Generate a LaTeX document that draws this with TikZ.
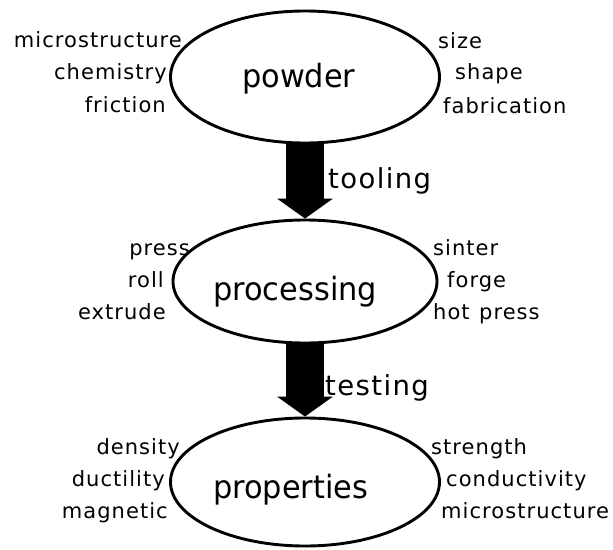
\documentclass[tikz,border=0pt]{standalone}
\usepackage{fontspec}
\setmainfont{DejaVu Sans}[LetterSpace=5]
\newfontfamily\stagefont{DejaVu Sans}[FakeStretch=0.95]
\usetikzlibrary{shapes.geometric,arrows.meta}

\begin{document}
\begin{tikzpicture}[x=1pt,y=-1pt,
  stage/.style={ellipse, draw, line width=2.9pt, inner sep=0pt},
  side/.style={font=\fontsize{21}{25}\selectfont, inner sep=0pt},
  big/.style={font=\stagefont\fontsize{32}{36}\selectfont, inner sep=0pt},
  flowtext/.style={font=\fontsize{27.5}{32}\selectfont, inner sep=0pt},
  flow/.style={line width=38pt, -{Triangle[width=55pt,length=20pt]}},
]
\useasboundingbox[fill=white] (0,0) rectangle (613,549);

% the three stages
\node[stage, minimum width=269pt, minimum height=132pt] (powder) at (305,77) {};
\node[stage, minimum width=264pt, minimum height=123pt] (processing) at (305,281.5) {};
\node[stage, minimum width=269pt, minimum height=128pt] (properties) at (305,482) {};

\node[big, anchor=base west] (tpowder) at (242,87) {powder};
\node[big, anchor=base west] (tprocessing) at (213,300) {processing};
\node[big, anchor=base west] (tproperties) at (213,498) {properties};

% flow between the stages
\draw[flow] (powder.south) -- (processing.north);
\draw[flow] (processing.south) -- (properties.north);
\node[flowtext, anchor=base west] (ttooling) at (328,188) {tooling};
\node[flowtext, anchor=base west] (ttesting) at (325,395) {testing};

% powder attributes
\node[side, anchor=base east] (p1) at (182,47) {microstructure};
\node[side, anchor=base east] (p2) at (167,79) {chemistry};
\node[side, anchor=base east] (p3) at (166,112) {friction};
\node[side, anchor=base west] (p4) at (438,48) {size};
\node[side, anchor=base west] (p5) at (455,79) {shape};
\node[side, anchor=base west] (p6) at (443,113) {fabrication};

% processing routes
\node[side, anchor=base east] (r1) at (190,255) {press};
\node[side, anchor=base east] (r2) at (164,287) {roll};
\node[side, anchor=base east] (r3) at (166,319) {extrude};
\node[side, anchor=base west] (r4) at (433,255) {sinter};
\node[side, anchor=base west] (r5) at (447,287) {forge};
\node[side, anchor=base west] (r6) at (433,319) {hot\hspace{0.45em}press};

% measured properties
\node[side, anchor=base east] (m1) at (180,454) {density};
\node[side, anchor=base east] (m2) at (165,486) {ductility};
\node[side, anchor=base east] (m3) at (168,518) {magnetic};
\node[side, anchor=base west] (m4) at (431,454) {strength};
\node[side, anchor=base west] (m5) at (446,486) {conductivity};
\node[side, anchor=base west] (m6) at (441,518) {microstructure};
\end{tikzpicture}
\end{document}
